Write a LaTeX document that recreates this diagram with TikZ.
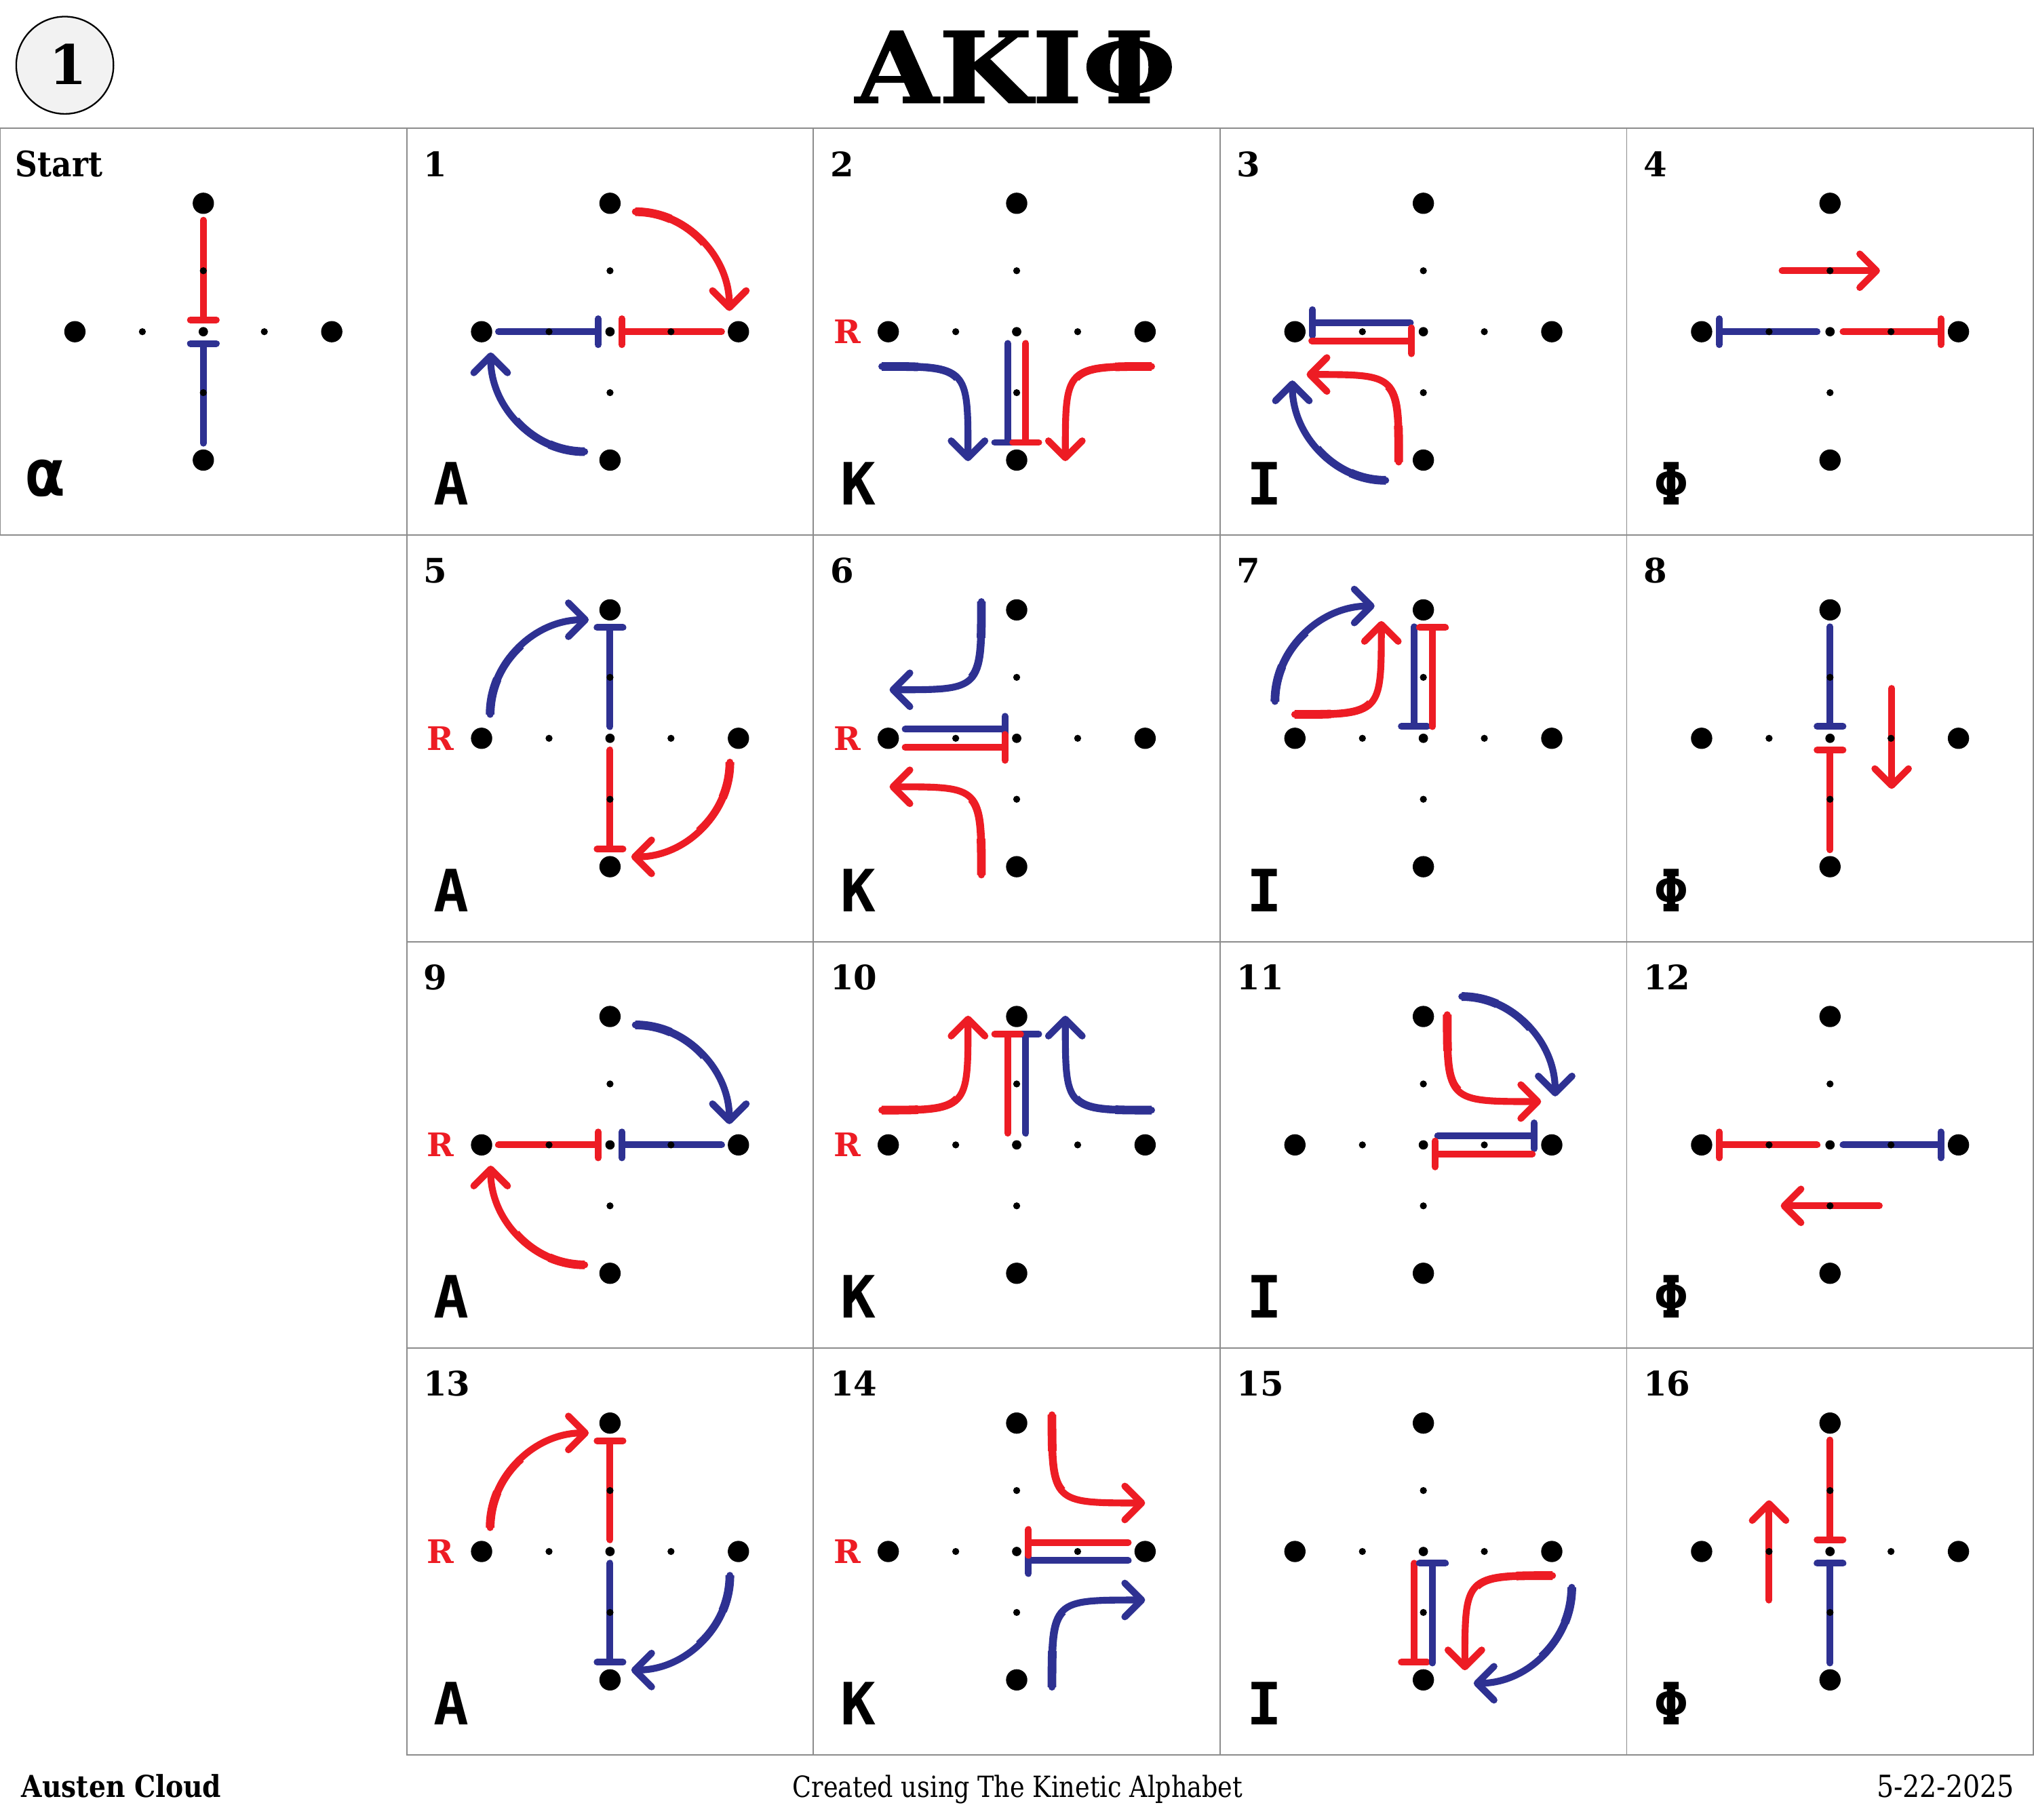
\documentclass[tikz,border=0pt]{standalone}
\usepackage{fontspec}
\setmainfont{DejaVu Serif}
\newfontfamily\gserif{DejaVu Serif}[FakeStretch=0.88]
\newfontfamily\nserif{DejaVu Serif}
\newfontfamily\fserif{DejaVu Serif}[FakeStretch=0.85]
\newfontfamily\tserif{DejaVu Serif Bold}[FakeStretch=1.09, FakeBold=1]
\newfontfamily\kmono{DejaVu Sans Mono}
\usetikzlibrary{arrows.meta}
\definecolor{kred}{HTML}{ED1C24}
\definecolor{kblue}{HTML}{2E3192}
\definecolor{gridgray}{HTML}{8C8C8C}
\definecolor{badgefill}{HTML}{F2F2F2}
\tikzset{
  redln/.style={draw=kred, line width=5.2pt, line cap=round},
  blueln/.style={draw=kblue, line width=5.2pt, line cap=round},
  redcv/.style={draw=kred, line width=5.3pt, line cap=round,
    preaction={draw=kred, arrows=-, line width=6pt, dash pattern=on 60pt off 3000pt},
    preaction={draw=kred, arrows=-, line width=6.7pt, dash pattern=on 28pt off 3000pt}},
  bluecv/.style={draw=kblue, line width=5.3pt, line cap=round,
    preaction={draw=kblue, arrows=-, line width=6pt, dash pattern=on 60pt off 3000pt},
    preaction={draw=kblue, arrows=-, line width=6.7pt, dash pattern=on 28pt off 3000pt}},
  tbar/.style={-{Bar[width=20pt,round]}},
  barb/.style={-{Straight Barb[length=13pt,width=26pt,round]}},
  gridln/.style={draw=gridgray, line width=1pt},
  numlbl/.style={anchor=base west, inner sep=0pt, font=\nserif\bfseries\fontsize{26}{28}\selectfont},
  letlbl/.style={anchor=base west, inner sep=0pt, font=\kmono\bfseries\fontsize{45}{50}\selectfont},
  rlbl/.style={anchor=base east, inner sep=0pt, text=kred, font=\nserif\bfseries\fontsize{25}{28}\selectfont},
  footlbl/.style={anchor=base, inner sep=0pt, font=\fserif\fontsize{22.5}{25}\selectfont},
}
\newcommand\kdots{%
  \fill (-99,0) circle[radius=8.2] (99,0) circle[radius=8.2] (0,-99) circle[radius=8.2] (0,99) circle[radius=8.2];
  \fill (-47,0) circle[radius=2.7] (47,0) circle[radius=2.7] (0,-47) circle[radius=2.7] (0,47) circle[radius=2.7];
  \fill (0,0) circle[radius=3.6];}
\newcommand\kframe[2]{%
  \kdots
  \node[numlbl] (num#1) at (-144,-119.75) {#1};
  \node[letlbl] (let#1) at (-136,133.5) {#2};}
\begin{document}
\begin{tikzpicture}[x=1pt,y=-1pt]
\useasboundingbox (0,0) rectangle (1568,1403.3);
\fill[white] (0,0) rectangle (1568,1403.3);
% grid
\draw[gridln] (0,99) rectangle (313.5,412.5);
\foreach \c in {1,2,3,4} \foreach \r in {0,1,2,3} {
  \draw[gridln] ({313.5*\c},{99+313.5*\r}) rectangle ++(313.5,313.5);
}
% header
\node[circle, draw=black, line width=1.2pt, fill=badgefill, minimum size=75pt, inner sep=0pt] (badge) at (50,50.3) {};
\node[anchor=base, inner sep=0pt, font=\nserif\bfseries\fontsize{42}{44}\selectfont] (badgenum) at (52.5,65) {1};
\node[anchor=base, inner sep=0pt, font=\tserif\fontsize{76}{80}\selectfont] (title) at (783,79.3) {ΑΚΙΦ};
% Start
\begin{scope}[shift={(156.75,255.75)}]
  \draw[blueln,tbar] (0,86) -- (0,6.5);
  \draw[redln,tbar] (0,-86) -- (0,-6.5);
  \kdots
  \node[anchor=base west, inner sep=0pt, font=\gserif\bfseries\fontsize{27}{29}\selectfont] (num0) at (-145,-119.75) {Start};
  \node[anchor=base west, inner sep=0pt, font=\kmono\bfseries\fontsize{50}{52}\selectfont] (let0) at (-137,126.6) {α};
\end{scope}
% 1
\begin{scope}[shift={(470.25,255.75)}]
  \draw[blueln,tbar] (-86,0) -- (-6.5,0);
  \draw[redln,tbar] (86,0) -- (6.5,0);
  \draw[redcv,barb] (19.5,-92.5) .. controls (59.4,-92.5) and (92,-58.1) .. (92,-16);
  \draw[bluecv,barb] (-19.5,92.5) .. controls (-59.4,92.5) and (-92,58.1) .. (-92,16);
  \kframe{1}{A}
\end{scope}
% 2
\begin{scope}[shift={(783.75,255.75)}]
  \draw[blueln,tbar] (-7,9) -- (-7,88);
  \draw[redln,tbar] (7,9) -- (7,88);
  \draw[bluecv,barb] (-104,26.8) .. controls (-37.5,26.8) and (-37.5,26.8) .. (-37.5,99.8);
  \draw[redcv,barb] (104,26.8) .. controls (37.5,26.8) and (37.5,26.8) .. (37.5,99.8);
  \kframe{2}{K}
  \node[rlbl] (rlab2) at (-120,9.2) {R};
\end{scope}
% 3
\begin{scope}[shift={(1097.25,255.75)}]
  \draw[blueln,tbar] (-10,-7) -- (-88,-7);
  \draw[redln,tbar] (-86,7) -- (-6.5,7);
  \draw[redcv,barb] (-19,100.5) .. controls (-19,33) and (-19,33) .. (-90,33);
  \draw[bluecv,barb] (-29,114.6) .. controls (-68.6,114.6) and (-101,80) .. (-101,37.6);
  \kframe{3}{I}
\end{scope}
% 4
\begin{scope}[shift={(1410.75,255.75)}]
  \draw[blueln,tbar] (-10,0) -- (-88,0);
  \draw[redln,tbar] (10,0) -- (88,0);
  \draw[redln,barb] (-37,-47) -- (38.5,-47);
  \kframe{4}{Φ}
\end{scope}
% 5
\begin{scope}[shift={(470.25,569.25)}]
  \draw[blueln,tbar] (0,-9) -- (0,-88);
  \draw[redln,tbar] (0,9) -- (0,88);
  \draw[bluecv,barb] (-92.4,-18.4) .. controls (-92.4,-58.5) and (-58.2,-91.4) .. (-16.4,-91.4);
  \draw[redcv,barb] (92.4,18.4) .. controls (92.4,58.5) and (58.2,91.4) .. (16.4,91.4);
  \kframe{5}{A}
  \node[rlbl] (rlab5) at (-120,9.2) {R};
\end{scope}
% 6
\begin{scope}[shift={(783.75,569.25)}]
  \draw[blueln,tbar] (-86,-7) -- (-6.5,-7);
  \draw[redln,tbar] (-86,7) -- (-6.5,7);
  \draw[bluecv,barb] (-27.2,-105.4) .. controls (-27.2,-37.4) and (-27.2,-37.4) .. (-98,-37.4);
  \draw[redcv,barb] (-27.2,105.4) .. controls (-27.2,37.4) and (-27.2,37.4) .. (-98,37.4);
  \kframe{6}{K}
  \node[rlbl] (rlab6) at (-120,9.2) {R};
\end{scope}
% 7
\begin{scope}[shift={(1097.25,569.25)}]
  \draw[blueln,tbar] (-7,-86) -- (-7,-6.5);
  \draw[redln,tbar] (7,-9) -- (7,-88);
  \draw[bluecv,barb] (-114.4,-28.4) .. controls (-114.4,-68.9) and (-79.8,-102) .. (-37.6,-102);
  \draw[redcv,barb] (-99.2,-18.4) .. controls (-32.4,-18.4) and (-32.4,-18.4) .. (-32.4,-90.4);
  \kframe{7}{I}
\end{scope}
% 8
\begin{scope}[shift={(1410.75,569.25)}]
  \draw[blueln,tbar] (0,-86) -- (0,-6.5);
  \draw[redln,tbar] (0,86) -- (0,6.5);
  \draw[redln,barb] (47.5,-38.5) -- (47.5,39);
  \kframe{8}{Φ}
\end{scope}
% 9
\begin{scope}[shift={(470.25,882.75)}]
  \draw[redln,tbar] (-86,0) -- (-6.5,0);
  \draw[blueln,tbar] (86,0) -- (6.5,0);
  \draw[bluecv,barb] (19.5,-92.5) .. controls (59.4,-92.5) and (92,-58.1) .. (92,-16);
  \draw[redcv,barb] (-19.5,92.5) .. controls (-59.4,92.5) and (-92,58.1) .. (-92,16);
  \kframe{9}{A}
  \node[rlbl] (rlab9) at (-120,9.2) {R};
\end{scope}
% 10
\begin{scope}[shift={(783.75,882.75)}]
  \draw[blueln,tbar] (7,-9) -- (7,-88);
  \draw[redln,tbar] (-7,-9) -- (-7,-88);
  \draw[redcv,barb] (-104,-26.8) .. controls (-37.5,-26.8) and (-37.5,-26.8) .. (-37.5,-99.6);
  \draw[bluecv,barb] (104,-26.8) .. controls (37.5,-26.8) and (37.5,-26.8) .. (37.5,-99.6);
  \kframe{10}{K}
  \node[rlbl] (rlab10) at (-120,9.2) {R};
\end{scope}
% 11
\begin{scope}[shift={(1097.25,882.75)}]
  \draw[blueln,tbar] (11,-7) -- (88,-7);
  \draw[redln,tbar] (84,7) -- (6.5,7);
  \draw[bluecv,barb] (29.6,-114.4) .. controls (69.2,-114.4) and (101.6,-79.8) .. (101.6,-37.4);
  \draw[redcv,barb] (18.4,-100.4) .. controls (18.4,-33.4) and (18.4,-33.4) .. (90.8,-33.4);
  \kframe{11}{I}
\end{scope}
% 12
\begin{scope}[shift={(1410.75,882.75)}]
  \draw[redln,tbar] (-10,0) -- (-88,0);
  \draw[blueln,tbar] (10,0) -- (88,0);
  \draw[redln,barb] (38,47) -- (-38,47);
  \kframe{12}{Φ}
\end{scope}
% 13
\begin{scope}[shift={(470.25,1196.25)}]
  \draw[redln,tbar] (0,-9) -- (0,-88);
  \draw[blueln,tbar] (0,9) -- (0,88);
  \draw[redcv,barb] (-92.4,-18.4) .. controls (-92.4,-58.5) and (-58.2,-91.4) .. (-16.4,-91.4);
  \draw[bluecv,barb] (92.4,18.4) .. controls (92.4,58.5) and (58.2,91.4) .. (16.4,91.4);
  \kframe{13}{A}
  \node[rlbl] (rlab13) at (-120,9.2) {R};
\end{scope}
% 14
\begin{scope}[shift={(783.75,1196.25)}]
  \draw[blueln,tbar] (86,7) -- (6.5,7);
  \draw[redln,tbar] (86,-7) -- (6.5,-7);
  \draw[redcv,barb] (27.2,-105.4) .. controls (27.2,-37.4) and (27.2,-37.4) .. (99,-37.4);
  \draw[bluecv,barb] (27.2,104.6) .. controls (27.2,37.4) and (27.2,37.4) .. (99,37.4);
  \kframe{14}{K}
  \node[rlbl] (rlab14) at (-120,9.2) {R};
\end{scope}
% 15
\begin{scope}[shift={(1097.25,1196.25)}]
  \draw[redln,tbar] (-7,9) -- (-7,88);
  \draw[blueln,tbar] (7,86) -- (7,6.5);
  \draw[redcv,barb] (99.6,18.6) .. controls (32,18.6) and (32,18.6) .. (32,91.6);
  \draw[bluecv,barb] (114.4,27.6) .. controls (114.4,68.3) and (80.4,101.6) .. (38.8,101.6);
  \kframe{15}{I}
\end{scope}
% 16
\begin{scope}[shift={(1410.75,1196.25)}]
  \draw[redln,tbar] (0,-86) -- (0,-6.5);
  \draw[blueln,tbar] (0,86) -- (0,6.5);
  \draw[redln,barb] (-47,37.5) -- (-47,-39.5);
  \kframe{16}{Φ}
\end{scope}
% footer
\node[anchor=base west, inner sep=0pt, font=\gserif\bfseries\fontsize{23.3}{25}\selectfont] (author) at (16.5,1385.9) {Austen Cloud};
\node[footlbl] (credit) at (784.5,1385.9) {Created using The Kinetic Alphabet};
\node[footlbl, anchor=base east, font=\gserif\fontsize{23.5}{25}\selectfont] (date) at (1553,1385.9) {5-22-2025};
\end{tikzpicture}
\end{document}
